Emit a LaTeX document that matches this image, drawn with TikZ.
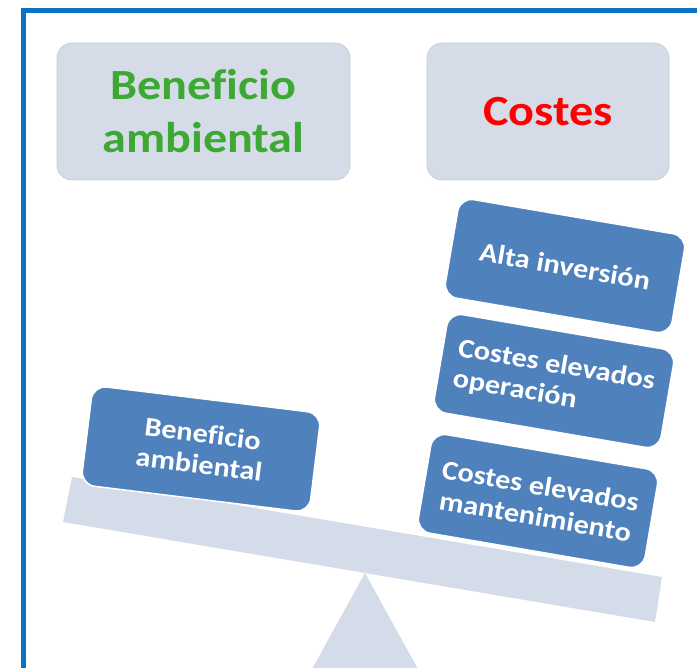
\documentclass[tikz,border=0pt]{standalone}
\usepackage{fontspec}
\setmainfont{Carlito}[FakeStretch=1.12,Ligatures=NoCommon]
\definecolor{framec}{RGB}{12,114,195}
\definecolor{headc}{RGB}{213,220,232}
\definecolor{beamc}{RGB}{213,220,233}
\definecolor{boxc}{RGB}{79,129,189}
\definecolor{greent}{RGB}{62,168,53}
\begin{document}
\begin{tikzpicture}[x=1pt,y=-1pt,
  headbox/.style={fill=headc, draw=headc!92!black, line width=0.6pt, rounded corners=15pt,
    inner sep=0pt, font=\bfseries\fontsize{43}{53}\selectfont, align=center},
  costbox/.style={fill=boxc, draw=white, line width=1.5pt, rounded corners=14pt,
    minimum width=230pt, minimum height=100pt, inner sep=0pt, text=white,
    font=\bfseries\fontsize{27}{31}\selectfont},
  ]
\useasboundingbox (0,0) rectangle (697,668);
\clip (0,0) rectangle (697,668);
\fill[white] (0,0) rectangle (697,668);
% frame
\coordinate (fbl) at (23,700);
\coordinate (ftr) at (720,10.5);
\draw[framec, line width=5pt] (fbl) |- (ftr);
% header boxes
\node[headbox, minimum width=293pt, minimum height=137pt, text=greent] (hbenef) at (203.5,111.5) {Beneficio\\ambiental};
\node[headbox, minimum width=242pt, minimum height=137pt, text=red] (hcost) at (548,111.5) {Costes};
% balance
\fill[beamc] (72,477) -- (662,577) -- (655,622) -- (63,522) -- cycle;
\fill[beamc] (365,573) -- (435,700) -- (295,700) -- cycle;
% boxes
\node[costbox, rotate=-7, align=center] (benef) at (201,449) {Beneficio\\ambiental};
\node[costbox, rotate=-9.7] (alta) at (565,266) {Alta inversión};
\node[costbox, rotate=-9.7, align=left] (oper) at (554,381) {Costes elevados\\operación};
\node[costbox, rotate=-9.7, align=center] (mant) at (538,501) {Costes elevados\\mantenimiento};
\end{tikzpicture}
\end{document}
